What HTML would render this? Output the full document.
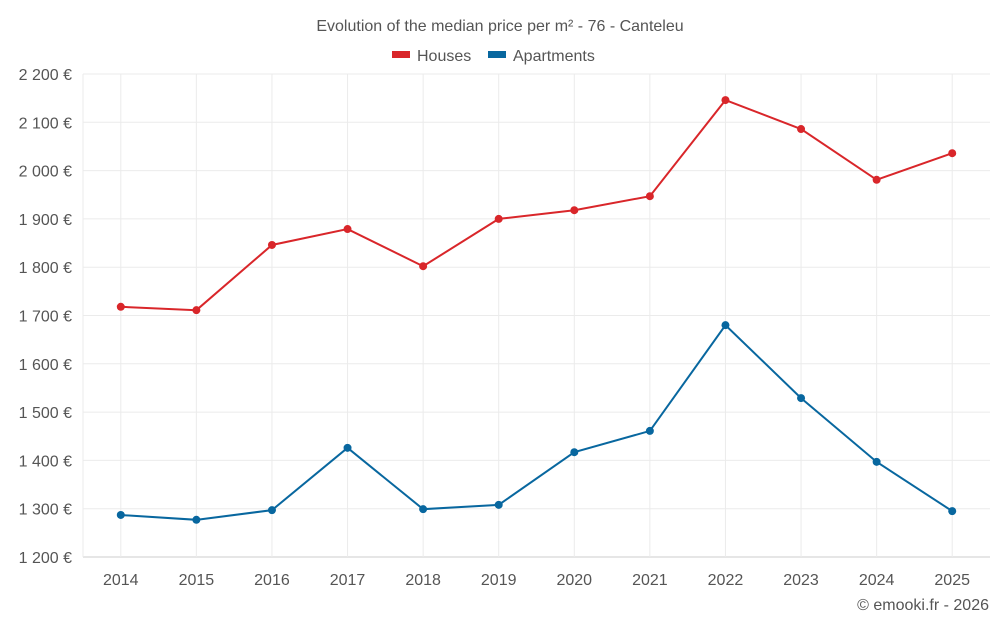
<!DOCTYPE html>
<html><head><meta charset="utf-8"><style>
body{margin:0;background:#fff;font-family:"Liberation Sans",sans-serif;}
svg text{font-family:"Liberation Sans",sans-serif;}
</style></head><body>
<svg id="chart" width="1000" height="625" xmlns="http://www.w3.org/2000/svg">
<text x="500" y="31" text-anchor="middle" font-size="16" fill="#555">Evolution of the median price per m² - 76 - Canteleu</text>
<g>
<g><rect x="392" y="51" width="18" height="7" fill="#d9262a"/><text x="417" y="61" font-size="16" fill="#555">Houses</text></g>
<g><rect x="488" y="51" width="18" height="7" fill="#08679f"/><text x="513" y="61" font-size="16" fill="#555">Apartments</text></g>
</g>
<g id="grid"></g><g id="axes"></g><g id="series"></g>
<text x="989" y="610" text-anchor="end" font-size="16" fill="#555">© emooki.fr - 2026</text>
</svg>
<script>
const years=["2014","2015","2016","2017","2018","2019","2020","2021","2022","2023","2024","2025"];
const houses=[1718,1711,1846,1879,1802,1900,1918,1947,2146,2086,1981,2036];
const apartments=[1287,1277,1297,1426,1299,1308,1417,1461,1680,1529,1397,1295];
const yTicks=[1200,1300,1400,1500,1600,1700,1800,1900,2000,2100,2200];
const L=83,R=990,T=74,B=557,ymin=1200,ymax=2200;
const NS="http://www.w3.org/2000/svg";
const bw=(R-L)/years.length;
const x=i=>L+bw*(i+0.5);
const y=v=>B-(v-ymin)/(ymax-ymin)*(B-T);
function mk(tag,attrs,parent){const e=document.createElementNS(NS,tag);for(const k in attrs)e.setAttribute(k,attrs[k]);parent.appendChild(e);return e;}
const grid=document.getElementById('grid'),axes=document.getElementById('axes'),ser=document.getElementById('series');
yTicks.forEach(t=>{
 const ln=mk('line',{x1:L,x2:R,y1:y(t),y2:y(t),stroke:t===ymin?'#ccc':'#ebebeb','stroke-width':1},grid);
 
 
 const tx=mk('text',{x:72,y:y(t)+6,'text-anchor':'end','font-size':16,fill:'#555'},axes);
 tx.textContent=(t>=1000?Math.floor(t/1000)+' '+String(t%1000).padStart(3,'0'):t)+' €';
 
 
});
const lb=mk('line',{x1:L,x2:L,y1:T,y2:B,stroke:'#ebebeb'},grid);


years.forEach((yr,i)=>{
 const ln=mk('line',{x1:x(i),x2:x(i),y1:T,y2:B,stroke:'#ebebeb'},grid);
 
 
 const tx=mk('text',{x:x(i),y:585,'text-anchor':'middle','font-size':16,fill:'#555'},axes);
 tx.textContent=yr;
 
 
});
function draw(vals,color,name){
 const p=mk('polyline',{points:vals.map((v,i)=>x(i)+','+y(v)).join(' '),fill:'none',stroke:color,'stroke-width':2},ser);
 
 
 vals.forEach((v,i)=>{
  const c=mk('circle',{cx:x(i),cy:y(v),r:4,fill:color},ser);
  
  
 });
}
draw(houses,'#d9262a','houses');
draw(apartments,'#08679f','apartments');
</script>
</body></html>
